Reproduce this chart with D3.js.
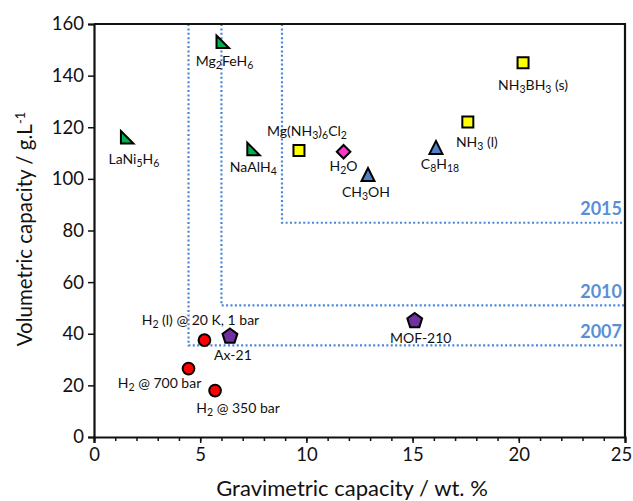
<!DOCTYPE html>
<html>
<head>
<meta charset="utf-8">
<script src="https://cdn.jsdelivr.net/npm/d3@7"></script>
<style>
  body { margin: 0; background: #fff; }
  text { font-family: Lato, "Open Sans", sans-serif; fill: #111; }
</style>
</head>
<body>
<div id="chart"></div>
<script>
// materials, {n} marks a subscript
const materials = [
  "LaNi{5}H{6}", "Mg{2}FeH{6}", "NaAlH{4}", "Mg(NH{3}){6}Cl{2}", "H{2}O",
  "CH{3}OH", "C{8}H{18}", "NH{3} (l)", "NH{3}BH{3} (s)",
  "H{2} (l) @ 20 K, 1 bar", "Ax-21", "H{2} @ 700 bar", "H{2} @ 350 bar", "MOF-210"
];
const gravimetric = [1.55, 6.05, 7.5, 9.65, 11.75, 12.9, 16.1, 17.6, 20.2, 5.2, 6.4, 4.45, 5.7, 15.1];
const volumetric = [116, 153, 111.5, 111, 110.5, 101.5, 112, 122, 145, 37.5, 39, 26.5, 18, 45];
const family = [
  "hydride", "hydride", "hydride", "ammine", "water",
  "liquid", "liquid", "ammine", "ammine",
  "hydrogen", "sorbent", "hydrogen", "hydrogen", "sorbent"
];

// DOE targets
const targetYears = ["2007", "2010", "2015"];
const targetGrav = [4.45, 6.0, 8.85];
const targetVol = [35.5, 51, 83];

// label offsets from marker centre (layout only)
const labelOffset = [
  [7, 26], [2, 24], [0, 23], [8, -14], [0, 19],
  [-2, 22], [4, 21], [9, 25], [10, 27],
  [-4, -15], [3, 24], [-29, 19], [23, 22], [6, 22]
];

const width = 633;
const height = 501;
const margin = { top: 24, right: 8, bottom: 64, left: 94 };

const x = d3.scaleLinear().domain([0, 25]).range([margin.left, width - margin.right]);
const y = d3.scaleLinear().domain([0, 160]).range([height - margin.bottom, margin.top]);

const svg = d3.select("#chart").append("svg")
  .attr("width", width)
  .attr("height", height);

const targetColor = "#4a86d6";

// target boxes
const targets = svg.append("g");
targetYears.forEach((yr, i) => {
  targets.append("path")
    .attr("d", `M${x(targetGrav[i])},${y(160)}V${y(targetVol[i])}H${x(25)}`)
    .attr("fill", "none")
    .attr("stroke", targetColor)
    .attr("stroke-width", 2.2)
    .attr("stroke-dasharray", "2 2.4");
  targets.append("text")
    .attr("x", x(25) - 3)
    .attr("y", y(targetVol[i]) - (i === 2 ? 8 : 7))
    .attr("text-anchor", "end")
    .attr("font-size", 18)
    .attr("font-weight", "bold")
    .style("fill", "#5a8fd8")
    .text(yr);
});

// axes
const xAxis = svg.append("g")
  .attr("transform", `translate(0,${y(0)})`)
  .call(d3.axisBottom(x).tickValues(d3.range(0, 26, 5)).tickSize(6).tickPadding(5));
svg.append("g")
  .attr("transform", `translate(0,${y(0)})`)
  .call(d3.axisBottom(x).tickValues(d3.range(0, 26, 1)).tickSize(4).tickFormat(""))
  .call((g) => g.select(".domain").remove());

const yAxis = svg.append("g")
  .attr("transform", `translate(${x(0)},0)`)
  .call(d3.axisLeft(y).tickValues(d3.range(0, 161, 20)).tickSize(6).tickPadding(4));

svg.selectAll(".tick line").attr("stroke", "#111").attr("stroke-width", 1.5);
svg.selectAll(".domain").attr("stroke", "#111").attr("stroke-width", 2.2);
xAxis.selectAll(".tick text").attr("font-size", 18.5).style("font-family", "Lato, sans-serif")
  .attr("dx", (d) => (d === 25 ? -4 : 0));
yAxis.selectAll(".tick text").attr("font-size", 18.5).style("font-family", "Lato, sans-serif");

// frame top + right
svg.append("path")
  .attr("d", `M${x(0)},${y(160)}H${x(25)}V${y(0)}`)
  .attr("fill", "none")
  .attr("stroke", "#111")
  .attr("stroke-width", 2.2);

// axis titles
svg.append("text")
  .attr("x", 352)
  .attr("y", 496)
  .attr("text-anchor", "middle")
  .attr("font-size", 22)
  .text("Gravimetric capacity / wt. %");

const yTitle = svg.append("text")
  .attr("transform", `translate(32,229) rotate(-90)`)
  .attr("text-anchor", "middle")
  .attr("font-size", 20.5);
yTitle.append("tspan").text("Volumetric capacity / g.L");
yTitle.append("tspan").attr("dy", -7).attr("font-size", 13).text("-1");

// marker shapes
function polygon(n, r, rot) {
  return d3.range(n).map((k) => {
    const a = rot + (k * 2 * Math.PI) / n;
    return [r * Math.cos(a), r * Math.sin(a)];
  });
}
const line = d3.line().curve(d3.curveLinearClosed);
const shapes = {
  hydride: { d: line([[-6, -6.5], [6.5, 6], [-6, 6]]), fill: "#00b050" },
  ammine: { d: line([[-5.5, -5.5], [5.5, -5.5], [5.5, 5.5], [-5.5, 5.5]]), fill: "#ffff00" },
  water: { d: line([[0, -6.8], [6.8, 0], [0, 6.8], [-6.8, 0]]), fill: "#ff33cc" },
  liquid: { d: line([[0, -7], [6.5, 6], [-6.5, 6]]), fill: "#4f81c4" },
  hydrogen: { d: d3.symbol(d3.symbolCircle, 108)(), fill: "#ff0000" },
  sorbent: { d: line(polygon(5, 7.8, -Math.PI / 2)), fill: "#7030a0" },
};

const points = svg.append("g");
materials.forEach((m, i) => {
  const s = shapes[family[i]];
  points.append("path")
    .attr("transform", `translate(${x(gravimetric[i])},${y(volumetric[i])})`)
    .attr("d", s.d)
    .attr("fill", s.fill)
    .attr("stroke", "#000")
    .attr("stroke-width", 2)
    .attr("stroke-linejoin", "miter");
});

// labels with subscripts
const labels = svg.append("g");
materials.forEach((m, i) => {
  const t = labels.append("text")
    .attr("x", x(gravimetric[i]) + labelOffset[i][0])
    .attr("y", y(volumetric[i]) + labelOffset[i][1])
    .attr("text-anchor", "middle")
    .attr("font-size", 14);
  const parts = m.split(/(\{[^}]*\})/).filter((p) => p.length);
  let sub = false;
  parts.forEach((p) => {
    if (p.startsWith("{")) {
      t.append("tspan").attr("dy", sub ? 0 : 3).attr("font-size", 10.5).text(p.slice(1, -1));
      sub = true;
    } else {
      t.append("tspan").attr("dy", sub ? -3 : 0).text(p);
      sub = false;
    }
  });
});
</script>
</body>
</html>
